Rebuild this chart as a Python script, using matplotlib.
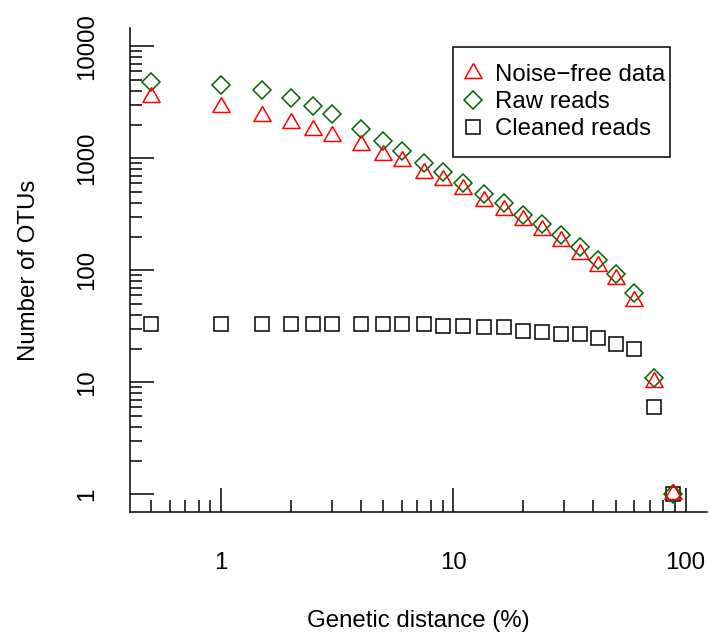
import matplotlib
matplotlib.use("Agg")
import matplotlib.pyplot as plt
from matplotlib.lines import Line2D
from matplotlib.patches import Rectangle
from matplotlib.ticker import FixedLocator, NullFormatter

# data
distance = [0.5, 1, 1.5, 2, 2.5, 3, 4, 5, 6, 7.5, 9, 11, 13.5, 16.5,
            20, 24, 29, 35, 42, 50, 60, 73, 88]
noise_free = [3520, 2870, 2400, 2060, 1800, 1590, 1300, 1080, 940, 745,
              635, 527, 415, 342, 279, 227, 182, 141, 109, 83, 53, 10, 1]
raw_reads = [4810, 4480, 4080, 3460, 2930, 2470, 1810, 1430, 1150, 900,
             748, 602, 480, 399, 313, 259, 205, 160, 124, 93, 63, 11, 1]
cleaned_reads = [33, 33, 33, 33, 33, 33, 33, 33, 33, 33, 32, 32, 31, 31,
                 29, 28, 27, 27, 25, 22, 20, 6, 1]

labels = ["Noise\u2212free data", "Raw reads", "Cleaned reads"]
x_ticks = [1, 10, 100]
x_ticklabels = ["1", "10", "100"]
y_ticks = [1, 10, 100, 1000, 10000]
y_ticklabels = ["1", "10", "100", "1000", "10000"]

plt.rcParams["font.family"] = ["Liberation Sans", "DejaVu Sans"]
FS = 17.3

W, H = 709, 639
fig = plt.figure(figsize=(W / 100, H / 100), dpi=100)


def fx(px):
    return px / W


def fy(py):
    return 1 - py / H


ax = fig.add_axes([fx(130), fy(512.3), fx(707) - fx(130), fy(28.3) - fy(512.3)])
ax.set_xscale("log")
ax.set_yscale("log")
ax.set_xlim(10 ** -0.392, 10 ** 2.092)
ax.set_ylim(10 ** -0.16, 10 ** 4.16)

# R style triangle (pch 2), centred on its centroid
tri = [(0, 1.555), (1.347, -0.778), (-1.347, -0.778), (0, 1.555)]
mk = dict(linestyle="none", mfc="none", mew=1.1, clip_on=False)
tri_kw = dict(marker=tri, ms=14.3, mec="red", **mk)
dia_kw = dict(marker="D", ms=9.4, mec="#006400", **mk)
sq_kw = dict(marker="s", ms=9.6, mec="black", **mk)

ax.plot(distance, cleaned_reads, **sq_kw)
ax.plot(distance, raw_reads, **dia_kw)
ax.plot(distance, noise_free, **tri_kw)

# axes: only left and bottom, ticks inside
for s in ["top", "right"]:
    ax.spines[s].set_visible(False)
for s in ["left", "bottom"]:
    ax.spines[s].set_linewidth(1.1)

ax.xaxis.set_major_locator(FixedLocator(x_ticks))
ax.set_xticklabels(x_ticklabels)
ax.xaxis.set_minor_locator(FixedLocator(
    [m * d for d in [0.1, 1, 10] for m in range(2, 10)]))
ax.yaxis.set_major_locator(FixedLocator(y_ticks))
ax.set_yticklabels(y_ticklabels, rotation=90, va="center")
ax.yaxis.set_minor_locator(FixedLocator(
    [m * d for d in [1, 10, 100, 1000] for m in range(2, 10)]))
ax.xaxis.set_minor_formatter(NullFormatter())
ax.yaxis.set_minor_formatter(NullFormatter())

ax.tick_params(which="both", direction="in", width=1.1, labelsize=FS)
ax.tick_params(which="major", length=17.3)
ax.tick_params(which="minor", length=8.6)
ax.tick_params(axis="x", which="major", pad=28.8)
ax.tick_params(axis="y", which="major", pad=23)

fig.text(fx(418.5), fy(627), "Genetic distance (%)", fontsize=FS,
         ha="center", va="baseline")
fig.text(fx(35.5), fy(270), "Number of OTUs", fontsize=FS, rotation=90,
         rotation_mode="anchor", ha="center", va="baseline")

# legend: box drawn by hand, entries by matplotlib
handles = [Line2D([], [], **tri_kw), Line2D([], [], **dia_kw),
           Line2D([], [], **sq_kw)]
ax.legend(handles, labels, loc="upper left", frameon=False, fontsize=FS,
          bbox_to_anchor=(fx(459.8), fy(64)), bbox_transform=fig.transFigure,
          borderpad=0, borderaxespad=0, handlelength=1.1, handletextpad=0.37,
          labelspacing=0.21, numpoints=1)
fig.add_artist(Rectangle((fx(453), fy(157)), fx(670) - fx(453), fy(47) - fy(157),
                         transform=fig.transFigure, fill=False,
                         edgecolor="black", linewidth=1.1))

fig.savefig("out.png", dpi=100)
